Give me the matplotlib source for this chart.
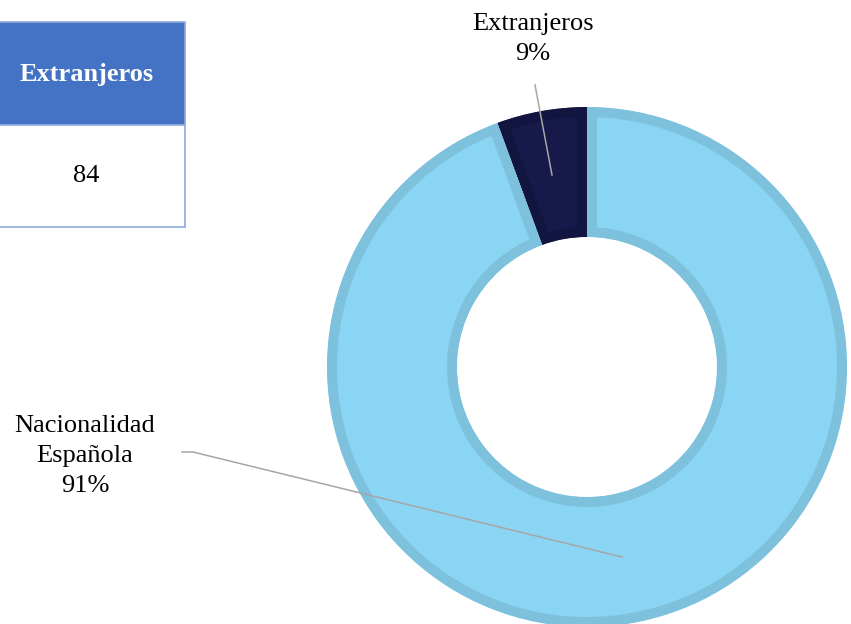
import matplotlib
matplotlib.use("Agg")
import matplotlib.pyplot as plt
from matplotlib.patches import Rectangle

# Data
categories = ["Extranjeros", "Nacionalidad\nEspañola"]
shares = [5.6, 94.4]          # slice sizes as drawn in the reference
pct_labels = ["9%", "91%"]
table_header = "Extranjeros"
table_value = "84"

fill_colors = ["#18194B", "#8AD5F3"]
edge_colors = ["#131541", "#7EC1DC"]

W, H = 851, 624
fig = plt.figure(figsize=(W / 100, H / 100), dpi=100)
ax = fig.add_axes([0, 0, 1, 1])


def Y(y):
    return H - y


serif = ["Liberation Serif", "DejaVu Serif"]

cx, cy = 587, 367
ax.set_xlim(0, W)
ax.set_ylim(0, H)
ax.set_aspect("equal")
wedges, _ = ax.pie(shares, center=(cx, Y(cy)), radius=260, startangle=90,
                   counterclock=True, colors=fill_colors,
                   wedgeprops=dict(width=130, linewidth=14.4), frame=True)
ax.set_xlim(0, W)
ax.set_ylim(0, H)
ax.set_aspect("equal")
ax.axis("off")
for w, ec in zip(wedges, edge_colors):
    w.set_edgecolor(ec)
    w.set_clip_on(True)
    w.set_clip_path(w)

# Leader lines
lc = "#A6A6A6"
ax.plot([535, 552], [Y(85), Y(175)], color=lc, lw=1.1)
ax.plot([182, 193, 622], [Y(452), Y(452), Y(557)], color=lc, lw=1.1)

# Labels
ax.text(533, Y(39), categories[0] + "\n" + pct_labels[0], ha="center", va="center",
        fontsize=19, family=serif, linespacing=1.5)
ax.text(85, Y(456), categories[1] + "\n" + pct_labels[1], ha="center", va="center",
        fontsize=19, family=serif, linespacing=1.5)

# Table
ax.add_patch(Rectangle((-12, Y(125)), 197, 103, facecolor="#4472C4", edgecolor="#8EAADB", lw=1.2))
ax.add_patch(Rectangle((-12, Y(227)), 197, 102, facecolor="white", edgecolor="#8EAADB", lw=1.2))
ax.text(87, Y(74), table_header, ha="center", va="center", fontsize=19,
        fontweight="bold", color="white", family=serif)
ax.text(86, Y(176), table_value, ha="center", va="center", fontsize=19,
        color="black", family=serif)

fig.savefig("out.png", dpi=100)
